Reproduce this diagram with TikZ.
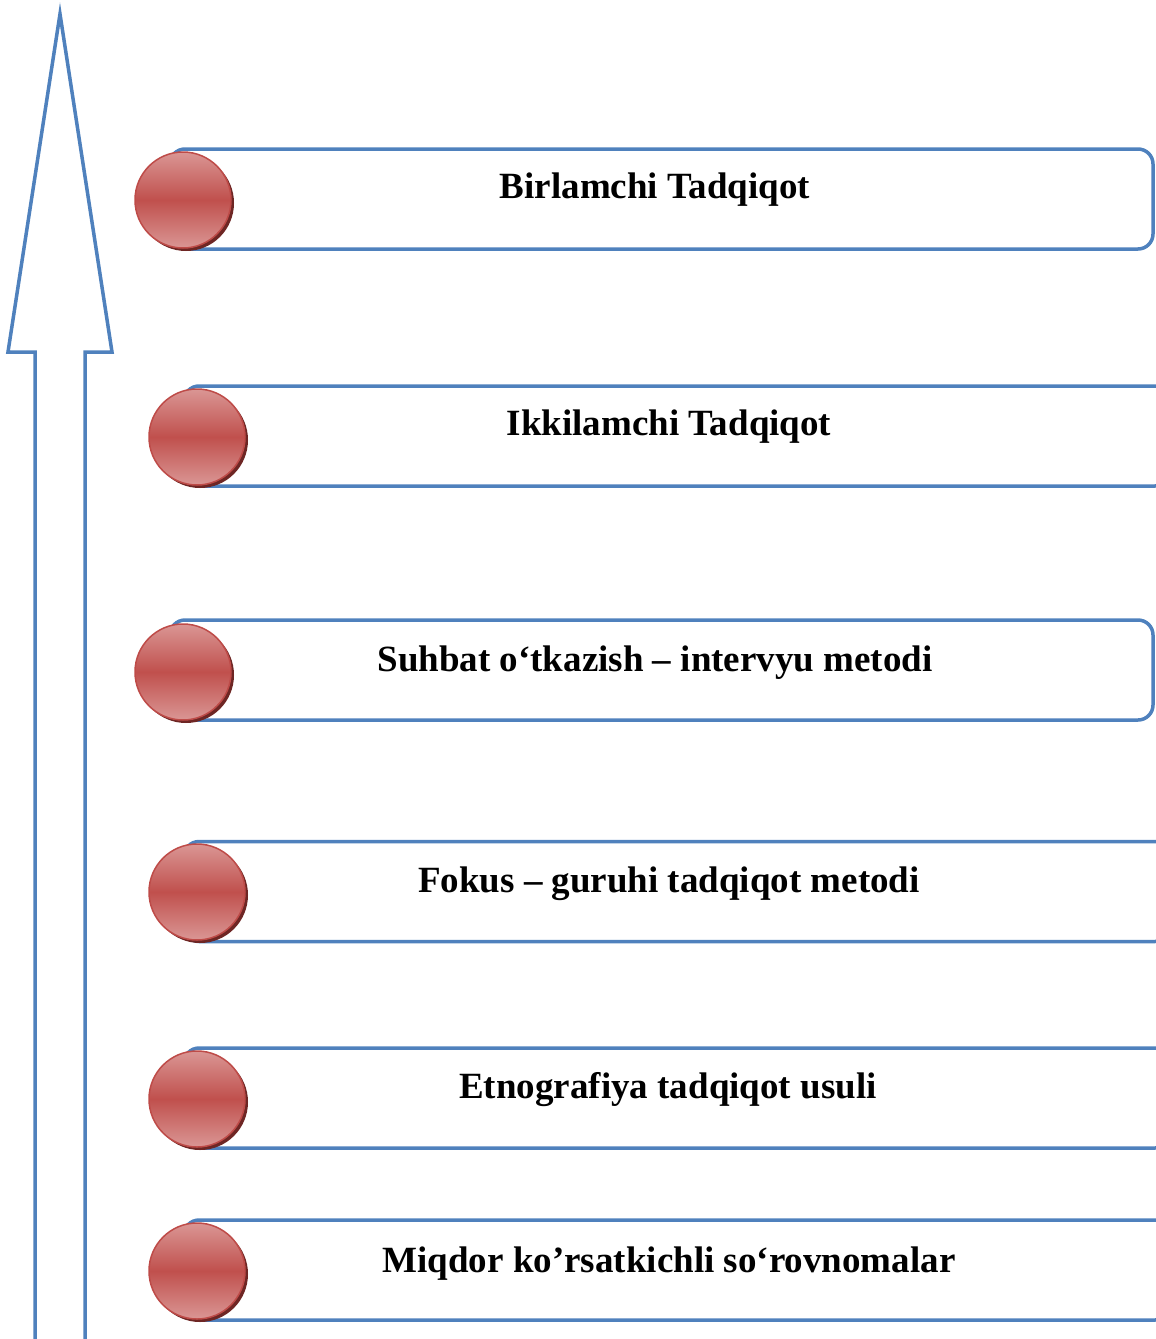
\documentclass[tikz,border=0pt]{standalone}
\usepackage{fontspec}
\setmainfont{Liberation Serif}
\begin{document}
\begin{tikzpicture}[x=1pt,y=-1pt,
  blue line/.style={draw=boxblue,line width=3.5pt},
  itembox/.style={blue line,rectangle,rounded corners=15pt,minimum height=100pt,inner sep=0pt,fill=white},
  ball/.style={circle,minimum size=96pt,inner sep=0pt,draw=ballborder,line width=1.5pt,
    top color=balllight,bottom color=balllight,middle color=ballmid,shading angle=0},
  ballshadow/.style={circle,minimum size=96pt,inner sep=0pt,fill=ballshadow},
  label/.style={font=\bfseries\fontsize{37}{44}\selectfont,inner sep=0pt}
]
\definecolor{boxblue}{RGB}{79,129,189}
\definecolor{balllight}{RGB}{218,150,148}
\definecolor{ballmid}{RGB}{192,80,77}
\definecolor{ballborder}{RGB}{190,75,72}
\definecolor{ballshadow}{RGB}{110,38,36}
\useasboundingbox (0,0) rectangle (1156,1339);
\clip (0,0) rectangle (1156,1339);
% arrow
\draw[blue line,line join=miter] (35,1350) -- (35,352) -- (8,352) -- (60,14) -- (112,352) -- (85,352) -- (85,1350);
% boxes
\node[itembox,minimum width=983pt] (b1) at (661.5,199) {};
\node[itembox,minimum width=986pt] (b2) at (677,436) {};
\node[itembox,minimum width=983pt] (b3) at (661.5,670) {};
\node[itembox,minimum width=986pt] (b4) at (677,891.5) {};
\node[itembox,minimum width=986pt] (b5) at (677,1098) {};
\node[itembox,minimum width=986pt] (b6) at (677,1270) {};
% balls
\foreach \n/\x/\y in {1/183/200, 2/197/437, 3/183/672, 4/197/892, 5/197/1099, 6/197/1271}{
  \node[ballshadow] (s\n) at (\x+3,\y+3) {};
  \node[ball] (c\n) at (\x,\y) {};
}
% labels
\node[label] (t1) at (655,190) {Birlamchi Tadqiqot};
\node[label] (t2) at (669,427) {Ikkilamchi Tadqiqot};
\node[label] (t3) at (655,663) {Suhbat o‘tkazish – intervyu metodi};
\node[label] (t4) at (669,884) {Fokus – guruhi tadqiqot metodi};
\node[label] (t5) at (668,1090) {Etnografiya tadqiqot usuli};
\node[label] (t6) at (669,1264) {Miqdor ko’rsatkichli so‘rovnomalar};
\end{tikzpicture}
\end{document}
